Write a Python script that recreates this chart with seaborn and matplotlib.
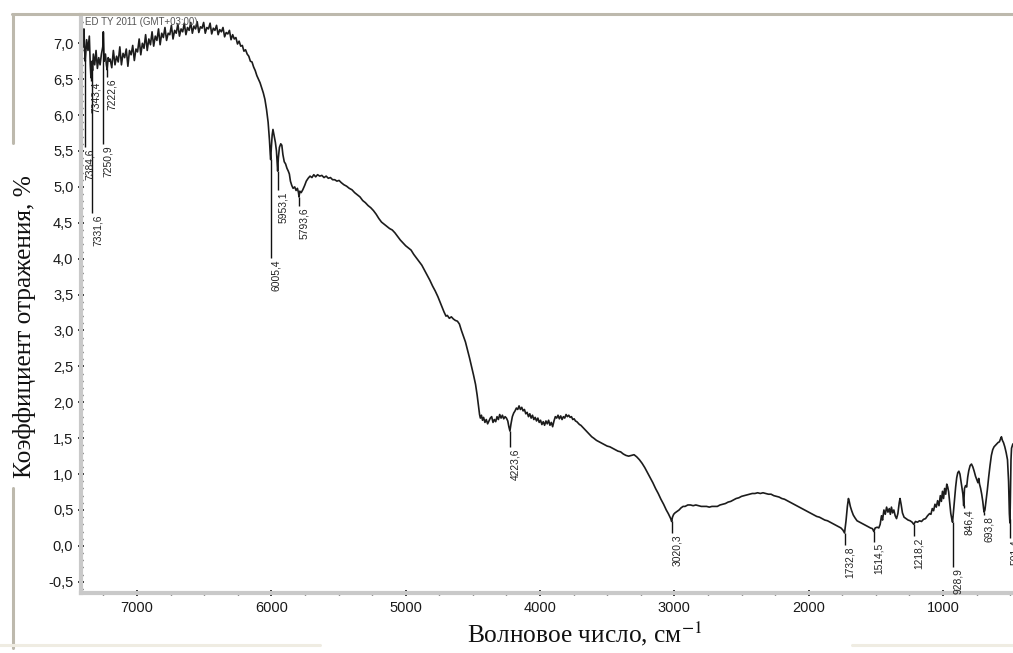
import numpy as np
import pandas as pd
import matplotlib
matplotlib.use("Agg")
import matplotlib.pyplot as plt
from matplotlib.lines import Line2D
from matplotlib.ticker import MultipleLocator, FuncFormatter
import seaborn as sns

# Diffuse reflectance spectrum: wavenumber (cm^-1) and reflectance (%)
wavenumber = [
    7417, 7410, 7400, 7395, 7390, 7385, 7375, 7365, 7355, 7348, 7343, 7335, 7331, 7325,
    7315, 7305, 7295, 7285, 7275, 7265, 7255, 7251, 7245, 7235, 7228, 7222, 7215, 7205,
    7200, 7188, 7176, 7164, 7152, 7140, 7128, 7116, 7104, 7092, 7080, 7068, 7056, 7044,
    7032, 7020, 7008, 6996, 6984, 6972, 6960, 6948, 6936, 6924, 6912, 6900, 6888, 6876,
    6864, 6852, 6840, 6828, 6816, 6804, 6792, 6780, 6768, 6756, 6744, 6732, 6720, 6708,
    6696, 6684, 6672, 6660, 6648, 6636, 6624, 6612, 6600, 6588, 6576, 6564, 6552, 6540,
    6528, 6516, 6504, 6492, 6480, 6468, 6456, 6444, 6432, 6420, 6408, 6396, 6384, 6372,
    6360, 6348, 6336, 6324, 6312, 6300, 6288, 6276, 6264, 6252, 6240, 6228, 6216, 6204,
    6192, 6180, 6168, 6156, 6144, 6132, 6120, 6108, 6096, 6084, 6072, 6060, 6048, 6036,
    6024, 6014, 6008, 6005, 6000, 5994, 5988, 5980, 5970, 5962, 5956, 5953, 5948, 5940,
    5930, 5922, 5914, 5904, 5894, 5884, 5874, 5866, 5858, 5848, 5838, 5826, 5816, 5806,
    5798, 5794, 5788, 5778, 5766, 5752, 5740, 5726, 5712, 5698, 5684, 5670, 5656, 5640,
    5624, 5608, 5592, 5576, 5560, 5544, 5528, 5512, 5496, 5480, 5460, 5440, 5420, 5400,
    5380, 5360, 5340, 5320, 5300, 5280, 5260, 5240, 5220, 5200, 5180, 5160, 5140, 5120,
    5100, 5080, 5060, 5040, 5020, 5000, 4980, 4960, 4940, 4920, 4900, 4880, 4860, 4840,
    4820, 4800, 4780, 4760, 4745, 4730, 4715, 4700, 4690, 4675, 4660, 4645, 4630, 4615,
    4600, 4585, 4570, 4555, 4540, 4525, 4510, 4495, 4480, 4468, 4458, 4450, 4444, 4436,
    4428, 4420, 4410, 4400, 4390, 4380, 4370, 4360, 4350, 4340, 4330, 4320, 4310, 4300,
    4290, 4280, 4270, 4260, 4250, 4240, 4232, 4224, 4216, 4206, 4196, 4186, 4176, 4166,
    4156, 4146, 4136, 4126, 4116, 4106, 4096, 4086, 4076, 4066, 4056, 4046, 4036, 4026,
    4016, 4006, 3996, 3986, 3976, 3966, 3956, 3946, 3936, 3926, 3916, 3906, 3896, 3886,
    3876, 3866, 3856, 3846, 3836, 3826, 3816, 3806, 3796, 3786, 3776, 3766, 3756, 3746,
    3736, 3726, 3716, 3706, 3696, 3686, 3676, 3660, 3645, 3630, 3615, 3600, 3580, 3560,
    3540, 3520, 3500, 3480, 3460, 3440, 3420, 3400, 3380, 3360, 3340, 3320, 3300, 3280,
    3260, 3240, 3220, 3200, 3180, 3160, 3140, 3120, 3100, 3080, 3060, 3045, 3035, 3027,
    3020, 3014, 3005, 2995, 2980, 2965, 2950, 2935, 2920, 2900, 2880, 2860, 2840, 2820,
    2800, 2780, 2760, 2740, 2720, 2700, 2680, 2660, 2640, 2620, 2600, 2580, 2560, 2540,
    2520, 2500, 2480, 2460, 2440, 2420, 2400, 2380, 2360, 2340, 2320, 2300, 2280, 2260,
    2240, 2220, 2200, 2180, 2160, 2140, 2120, 2100, 2080, 2060, 2040, 2020, 2000, 1980,
    1960, 1940, 1920, 1900, 1880, 1860, 1840, 1820, 1800, 1780, 1760, 1745, 1733, 1722,
    1712, 1704, 1698, 1690, 1680, 1668, 1655, 1640, 1620, 1600, 1580, 1560, 1540, 1525,
    1515, 1505, 1490, 1478, 1468, 1458, 1450, 1440, 1430, 1420, 1410, 1400, 1392, 1384,
    1375, 1366, 1356, 1346, 1336, 1326, 1320, 1312, 1302, 1290, 1275, 1260, 1245, 1230,
    1218, 1205, 1190, 1175, 1160, 1145, 1130, 1115, 1100, 1090, 1080, 1070, 1060, 1050,
    1040, 1030, 1020, 1012, 1004, 996, 988, 980, 972, 965, 958, 950, 942, 935,
    929, 922, 914, 906, 898, 890, 882, 874, 866, 858, 852, 846, 840, 832,
    824, 816, 808, 798, 788, 778, 768, 758, 748, 740, 734, 728, 720, 712,
    704, 698, 694, 688, 680, 670, 660, 650, 640, 630, 620, 610, 600, 590,
    580, 572, 565, 558, 550, 540, 530, 520, 512, 506, 502, 499, 494, 490,
    480,
]
reflectance = [
    7.00, 7.18, 6.95, 7.20, 6.90, 6.75, 7.05, 6.90, 7.10, 6.70, 6.52, 6.75, 6.62, 6.85,
    6.70, 6.90, 6.65, 6.80, 6.70, 6.85, 6.95, 7.16, 6.75, 6.85, 6.70, 6.63, 6.80, 6.75,
    6.78, 6.66, 6.90, 6.70, 6.82, 6.74, 6.95, 6.70, 6.86, 6.80, 6.92, 6.68, 6.90, 6.84,
    6.97, 6.76, 6.92, 6.88, 7.06, 6.84, 7.00, 6.93, 7.12, 6.90, 7.06, 6.98, 7.16, 6.96,
    7.10, 7.04, 7.20, 6.98, 7.14, 7.08, 7.22, 7.04, 7.14, 7.12, 7.25, 7.06, 7.18, 7.14,
    7.27, 7.10, 7.20, 7.16, 7.28, 7.12, 7.22, 7.18, 7.29, 7.14, 7.24, 7.20, 7.30, 7.15,
    7.23, 7.21, 7.29, 7.14, 7.22, 7.20, 7.28, 7.13, 7.21, 7.18, 7.25, 7.12, 7.19, 7.16,
    7.22, 7.09, 7.15, 7.13, 7.18, 7.05, 7.12, 7.06, 7.08, 6.99, 7.03, 6.96, 6.97, 6.89,
    6.91, 6.85, 6.82, 6.75, 6.74, 6.67, 6.62, 6.55, 6.50, 6.45, 6.38, 6.31, 6.22, 6.08,
    5.90, 5.65, 5.45, 5.38, 5.55, 5.72, 5.80, 5.72, 5.62, 5.50, 5.30, 5.22, 5.40, 5.55,
    5.60, 5.58, 5.45, 5.35, 5.32, 5.26, 5.22, 5.18, 5.08, 5.02, 4.98, 5.00, 4.95, 4.98,
    4.92, 4.86, 4.94, 4.92, 4.96, 5.02, 5.08, 5.12, 5.15, 5.13, 5.17, 5.14, 5.17, 5.15,
    5.16, 5.13, 5.15, 5.12, 5.13, 5.10, 5.10, 5.08, 5.09, 5.06, 5.03, 5.01, 4.98, 4.96,
    4.92, 4.89, 4.86, 4.81, 4.78, 4.74, 4.71, 4.67, 4.62, 4.56, 4.51, 4.48, 4.45, 4.42,
    4.40, 4.36, 4.31, 4.26, 4.22, 4.18, 4.15, 4.12, 4.06, 4.01, 3.96, 3.91, 3.84, 3.77,
    3.70, 3.62, 3.55, 3.47, 3.40, 3.33, 3.26, 3.20, 3.21, 3.17, 3.19, 3.16, 3.14, 3.13,
    3.09, 3.00, 2.92, 2.84, 2.73, 2.62, 2.50, 2.38, 2.25, 2.10, 1.95, 1.83, 1.78, 1.82,
    1.75, 1.79, 1.72, 1.76, 1.70, 1.74, 1.78, 1.80, 1.72, 1.76, 1.73, 1.80, 1.76, 1.83,
    1.78, 1.82, 1.77, 1.80, 1.78, 1.74, 1.66, 1.60, 1.70, 1.80, 1.85, 1.88, 1.92, 1.90,
    1.95, 1.90, 1.93, 1.88, 1.90, 1.84, 1.86, 1.80, 1.84, 1.78, 1.82, 1.76, 1.79, 1.74,
    1.78, 1.72, 1.75, 1.69, 1.73, 1.68, 1.74, 1.70, 1.75, 1.68, 1.72, 1.66, 1.74, 1.80,
    1.78, 1.82, 1.77, 1.81, 1.76, 1.80, 1.78, 1.83, 1.80, 1.82, 1.79, 1.80, 1.76, 1.77,
    1.74, 1.73, 1.71, 1.69, 1.68, 1.66, 1.64, 1.61, 1.58, 1.55, 1.52, 1.50, 1.47, 1.45,
    1.43, 1.41, 1.39, 1.38, 1.36, 1.34, 1.32, 1.31, 1.28, 1.26, 1.25, 1.26, 1.27, 1.24,
    1.20, 1.15, 1.09, 1.02, 0.95, 0.88, 0.80, 0.73, 0.65, 0.58, 0.50, 0.45, 0.41, 0.38,
    0.34, 0.40, 0.44, 0.46, 0.48, 0.50, 0.53, 0.55, 0.55, 0.57, 0.57, 0.56, 0.57, 0.56,
    0.55, 0.55, 0.55, 0.54, 0.55, 0.55, 0.55, 0.57, 0.58, 0.59, 0.61, 0.62, 0.64, 0.66,
    0.67, 0.69, 0.70, 0.71, 0.72, 0.73, 0.73, 0.74, 0.73, 0.74, 0.73, 0.72, 0.72, 0.70,
    0.69, 0.68, 0.66, 0.65, 0.63, 0.61, 0.59, 0.57, 0.55, 0.53, 0.51, 0.49, 0.47, 0.45,
    0.43, 0.41, 0.40, 0.38, 0.36, 0.35, 0.33, 0.31, 0.29, 0.27, 0.25, 0.22, 0.18, 0.35,
    0.55, 0.66, 0.62, 0.55, 0.49, 0.43, 0.39, 0.35, 0.33, 0.31, 0.29, 0.27, 0.25, 0.24,
    0.20, 0.25, 0.26, 0.25, 0.30, 0.42, 0.36, 0.50, 0.44, 0.54, 0.47, 0.52, 0.44, 0.54,
    0.46, 0.50, 0.42, 0.38, 0.45, 0.60, 0.66, 0.58, 0.46, 0.40, 0.38, 0.36, 0.35, 0.33,
    0.30, 0.34, 0.33, 0.35, 0.34, 0.37, 0.38, 0.42, 0.45, 0.44, 0.52, 0.49, 0.58, 0.54,
    0.63, 0.56, 0.70, 0.62, 0.76, 0.66, 0.80, 0.72, 0.86, 0.82, 0.75, 0.60, 0.45, 0.38,
    0.33, 0.48, 0.65, 0.82, 0.95, 1.02, 1.04, 1.00, 0.90, 0.80, 0.72, 0.56, 0.80, 0.84,
    0.82, 0.96, 1.05, 1.12, 1.14, 1.10, 1.04, 0.97, 0.92, 0.88, 0.94, 0.86, 0.80, 0.72,
    0.62, 0.52, 0.47, 0.50, 0.62, 0.78, 0.96, 1.12, 1.26, 1.34, 1.38, 1.40, 1.42, 1.44,
    1.45, 1.49, 1.52, 1.47, 1.44, 1.38, 1.30, 1.20, 0.90, 0.45, 0.32, 0.60, 1.20, 1.36,
    1.42,
]

# Peak marks: position, printed label, lower end of the marker line
peak_positions = [7384.6, 7343.4, 7331.6, 7250.9, 7222.6, 6005.4, 5953.1, 5793.6,
                  4223.6, 3020.3, 1732.8, 1514.5, 1218.2, 928.9, 846.4, 693.8, 501.4]
peak_labels = ["7384,6", "7343,4", "7331,6", "7250,9", "7222,6", "6005,4", "5953,1",
               "5793,6", "4223,6", "3020,3", "1732,8", "1514,5", "1218,2", "928,9",
               "846,4", "693,8", "501,4"]
peak_line_ends = [5.56, 6.48, 4.64, 5.60, 6.53, 4.01, 4.96, 4.73,
                  1.38, 0.18, 0.01, 0.06, 0.14, -0.29, 0.53, 0.43, 0.11]

x_range = (7417, 479)
y_range = (-0.656, 7.394)

spectrum = pd.DataFrame({"wavenumber": wavenumber, "reflectance": reflectance})

sns.set_theme(style="white")
plt.rcParams["font.family"] = ["Liberation Sans", "DejaVu Sans"]
plt.rcParams["mathtext.fontset"] = "stix"

W, H = 1013, 653
fig = plt.figure(figsize=(W / 100, H / 100), dpi=100, facecolor="white")
ax = fig.add_axes([81 / W, (H - 593) / H, (W - 81) / W, (593 - 15) / H])
ax.set_facecolor("white")

sns.lineplot(data=spectrum, x="wavenumber", y="reflectance", sort=False,
             estimator=None, color="#1c1c1c", linewidth=1.2, ax=ax)

ax.set_xlim(*x_range)
ax.set_ylim(*y_range)

# Peak marker lines with vertical labels hanging below them
curve_x = spectrum["wavenumber"].to_numpy()[::-1]
curve_y = spectrum["reflectance"].to_numpy()[::-1]
for pos, lab, end in zip(peak_positions, peak_labels, peak_line_ends):
    top = np.interp(pos, curve_x, curve_y)
    ax.plot([pos, pos], [top, end], color="#111111", linewidth=1.0,
            solid_capstyle="butt", clip_on=False)
    ax.text(pos, end - 0.02, lab, rotation=90, ha="left", va="top",
            fontsize=7.4, color="#222222", clip_on=False)

# Axes styling: thick light-grey axis lines with small black ticks
for side in ("top", "right"):
    ax.spines[side].set_visible(False)
for side in ("left", "bottom"):
    ax.spines[side].set_color("#c9c9c9")
    ax.spines[side].set_linewidth(3)

ax.xaxis.set_major_locator(MultipleLocator(1000))
ax.xaxis.set_minor_locator(MultipleLocator(250))
ax.yaxis.set_major_locator(MultipleLocator(0.5))
ax.yaxis.set_minor_locator(MultipleLocator(0.1))
ax.xaxis.set_major_formatter(FuncFormatter(lambda v, p: f"{v:.0f}"))
ax.yaxis.set_major_formatter(
    FuncFormatter(lambda v, p: f"{v:.1f}".replace(".", ",").replace("−", "-")))
ax.tick_params(axis="both", which="major", direction="inout", length=5, width=1.2,
               color="#111111", labelsize=10.5, labelcolor="#1a1a1a", pad=3,
               left=True, bottom=True)
ax.tick_params(axis="both", which="minor", direction="inout", length=3, width=1.0,
               color="#222222", left=True, bottom=True)
ax.set_xlabel("")
ax.set_ylabel("")
ax.grid(False)

# Instrument stamp in the plot corner
fig.text(85 / W, 1 - 22 / H, "ED TY 2011 (GMT+03:00)", fontsize=7, color="#555555",
         va="center", ha="left")

# Axis titles
fig.text(25 / W, 1 - 327 / H, "Коэффициент отражения, %", rotation=90,
         fontsize=18.3, family=["Liberation Serif", "DejaVu Serif"],
         ha="center", va="center", color="#111111")
fig.text(585 / W, 1 - 634 / H, "Волновое число, см$^{-1}$",
         fontsize=18.3, family=["Liberation Serif", "DejaVu Serif"],
         ha="center", va="center", color="#111111")

# Window frame pieces around the chart
frame_grey = "#bdb9ad"
frame_light = "#efece2"
fig.add_artist(Line2D([12 / W, 1], [1 - 14 / H, 1 - 14 / H], color=frame_grey,
                      linewidth=2.2, transform=fig.transFigure))
fig.add_artist(Line2D([13 / W, 13 / W], [1 - 14 / H, 1 - 143 / H], color=frame_grey,
                      linewidth=2.2, transform=fig.transFigure))
fig.add_artist(Line2D([13 / W, 13 / W], [1 - 488 / H, 1 - 648 / H], color=frame_grey,
                      linewidth=2.2, transform=fig.transFigure))
fig.add_artist(Line2D([0, 320 / W], [1 - 645 / H, 1 - 645 / H], color=frame_light,
                      linewidth=2.2, transform=fig.transFigure))
fig.add_artist(Line2D([852 / W, 1], [1 - 645 / H, 1 - 645 / H], color=frame_light,
                      linewidth=2.2, transform=fig.transFigure))

fig.savefig("out.png", dpi=100, facecolor="white")
